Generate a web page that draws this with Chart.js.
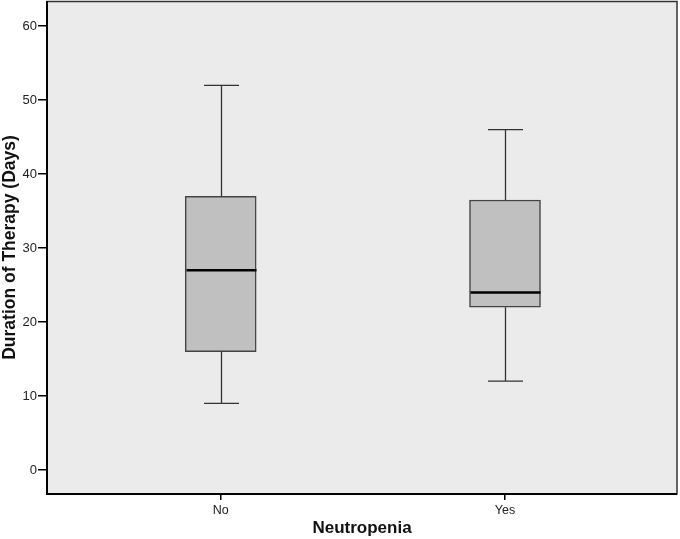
<!DOCTYPE html>
<html><head><meta charset="utf-8">
<script src="https://cdn.jsdelivr.net/npm/chart.js@4"></script>
<style>html,body{margin:0;padding:0;background:#fff}#wrap{width:680px;height:539px}</style>
</head><body><div id="wrap"><canvas id="c"></canvas></div>
<script>
const categories = ['No', 'Yes'];
const whiskerMin = [9, 12];
const q1 = [16, 22];
const median = [27, 24];
const q3 = [37, 36.5];
const whiskerMax = [52, 46];
const yTicks = [0, 10, 20, 30, 40, 50, 60];

const boxData = categories.map((c, i) => ({x: i + 1, y: [q1[i], q3[i]]}));

const boxPlugin = {
  id: 'boxPlugin',
  beforeDraw(chart) {
    const {ctx, chartArea: a} = chart;
    ctx.save();
    ctx.fillStyle = '#ebebeb';
    ctx.fillRect(a.left, a.top, a.right - a.left, a.bottom - a.top);
    ctx.restore();
  },
  afterDatasetsDraw(chart) {
    const {ctx, scales: {x, y}} = chart;
    ctx.save();
    categories.forEach((c, i) => {
      const cx = Math.round(x.getPixelForValue(i + 1)) + 0.5;
      const capHalf = 17.5;
      const yMin = y.getPixelForValue(whiskerMin[i]);
      const yMax = y.getPixelForValue(whiskerMax[i]);
      const yQ1 = y.getPixelForValue(q1[i]);
      const yQ3 = y.getPixelForValue(q3[i]);
      const yMed = y.getPixelForValue(median[i]);
      ctx.strokeStyle = '#333';
      ctx.lineWidth = 1.3;
      ctx.beginPath();
      ctx.moveTo(cx, yQ3); ctx.lineTo(cx, yMax);
      ctx.moveTo(cx - capHalf, yMax); ctx.lineTo(cx + capHalf, yMax);
      ctx.moveTo(cx, yQ1); ctx.lineTo(cx, yMin);
      ctx.moveTo(cx - capHalf, yMin); ctx.lineTo(cx + capHalf, yMin);
      ctx.stroke();
      ctx.strokeStyle = '#000';
      ctx.lineWidth = 2.5;
      ctx.beginPath();
      ctx.moveTo(cx - 35, yMed); ctx.lineTo(cx + 35, yMed);
      ctx.stroke();
    });
    ctx.restore();
  },
  afterDraw(chart) {
    const {ctx, chartArea: a} = chart;
    ctx.save();
    ctx.strokeStyle = '#333';
    ctx.lineWidth = 1.5;
    ctx.strokeRect(a.left, a.top + 0.5, a.right - a.left, a.bottom - a.top - 0.5);
    ctx.strokeStyle = '#000';
    ctx.lineWidth = 2;
    ctx.beginPath();
    ctx.moveTo(a.left, a.top); ctx.lineTo(a.left, a.bottom); ctx.lineTo(a.right, a.bottom);
    ctx.stroke();
    ctx.restore();
  }
};

new Chart(document.getElementById('c'), {
  type: 'bar',
  data: {
    datasets: [{
      data: boxData,
      backgroundColor: '#c0c0c0',
      borderColor: '#444',
      borderWidth: 1.5,
      borderSkipped: false,
      barThickness: 71
    }]
  },
  plugins: [boxPlugin],
  options: {
    responsive: true,
    maintainAspectRatio: false,
    animation: false,
    layout: {padding: {top: 1, right: 3, left: 0, bottom: 0}},
    plugins: {legend: {display: false}, tooltip: {enabled: false}},
    scales: {
      x: {
        type: 'linear',
        offset: false,
        min: 0.389,
        max: 2.605,
        afterBuildTicks(s) { s.ticks = categories.map((c, i) => ({value: i + 1})); },
        afterFit(s) { s.height = 45; s.paddingLeft = 0; s.paddingRight = 0; },
        ticks: {
          callback: v => categories[v - 1] || '',
          color: '#222',
          font: {family: 'Liberation Sans, Arial', size: 12.5},
          padding: 3,
          maxRotation: 0
        },
        grid: {offset: false, drawOnChartArea: false, tickLength: 6, color: '#000', lineWidth: 1.5},
        border: {display: false},
        title: {
          display: true,
          text: 'Neutropenia',
          color: '#111',
          font: {family: 'Liberation Sans, Arial', size: 17, weight: 'bold'},
          padding: {top: 6, bottom: 0}
        }
      },
      y: {
        min: -3.25,
        max: 63.4,
        afterBuildTicks(s) { s.ticks = yTicks.map(v => ({value: v})); },
        afterFit(s) { s.width = 47; s.paddingTop = 0; s.paddingBottom = 0; },
        ticks: {
          color: '#222',
          font: {family: 'Liberation Sans, Arial', size: 13},
          padding: 1
        },
        grid: {drawOnChartArea: false, tickLength: 9, color: '#000', lineWidth: 1.5},
        border: {display: false},
        title: {
          display: true,
          text: 'Duration of Therapy (Days)',
          color: '#111',
          font: {family: 'Liberation Sans, Arial', size: 17.5, weight: 'bold'},
          padding: {top: 0, bottom: 1}
        }
      }
    }
  }
});
</script></body></html>
